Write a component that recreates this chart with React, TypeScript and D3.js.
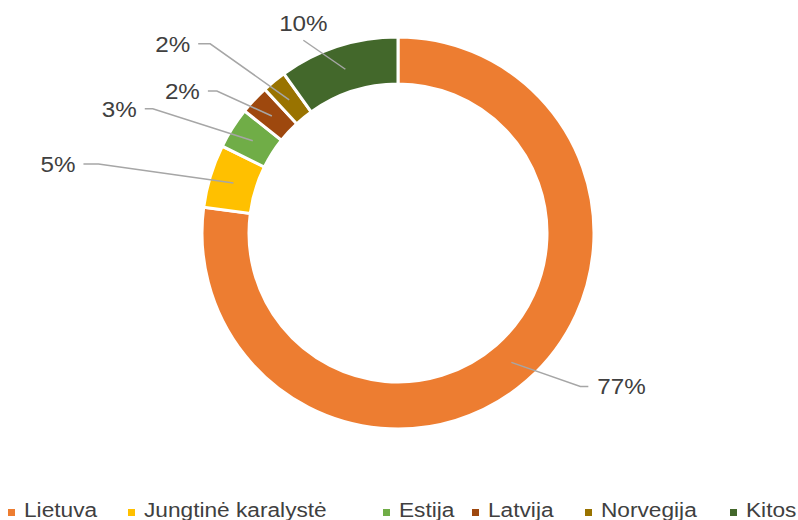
import React from "react";
import * as d3 from "d3";

const categories = ["Lietuva", "Jungtinė karalystė", "Estija", "Latvija", "Norvegija", "Kitos"];
const values = [77.1, 5.2, 3.4, 2.4, 2.0, 9.9];
const labels = ["77%", "5%", "3%", "2%", "2%", "10%"];
const colors = ["#ED7D31", "#FFC000", "#70AD47", "#9E480E", "#997300", "#43682B"];

// layout: leader elbow offset from centroid, horizontal tail, text side
const leaderLayout = [
  { ex: 69, ey: 24, tail: 8, side: "right" },
  { ex: -135, ey: -19, tail: -15, side: "left" },
  { ex: -100, ey: -32, tail: -8, side: "left" },
  { ex: -55, ey: -25, tail: -9, side: "left" },
  { ex: -79, ey: -56, tail: -12, side: "left" },
  { ex: -42, ey: -29, tail: 0, side: "top" },
];
const legendX = [8, 128, 383, 472, 585, 730];

const W = 798;
const H = 520;
const cx = 398;
const cy = 233;
const rOuter = 196;
const rInner = 149;
const font = "'Liberation Sans', Arial, sans-serif";
const sx = 1.1;

export default function App() {
  const pie = d3.pie<number>().sort(null).value((d) => d);
  const arcs = pie(values);
  const arc = d3.arc<d3.PieArcDatum<number>>().innerRadius(rInner).outerRadius(rOuter);
  const mid = d3.arc<d3.PieArcDatum<number>>().innerRadius(172).outerRadius(172);

  return (
    <svg width={W} height={H} style={{ position: "absolute", left: 0, top: 0, background: "#fff" }}>
      <g transform={`translate(${cx},${cy})`}>
        {arcs.map((a, i) => (
          <path key={i} d={arc(a) || ""} fill={colors[i]} stroke="#fff" strokeWidth={3} strokeLinejoin="miter" />
        ))}
        {arcs.map((a, i) => {
          const [mx, my] = mid.centroid(a);
          const L = leaderLayout[i];
          const ex = mx + L.ex;
          const ey = my + L.ey;
          const tx = ex + L.tail;
          const pts = L.tail !== 0 ? `${mx},${my} ${ex},${ey} ${tx},${ey}` : `${mx},${my} ${ex},${ey}`;
          let textX = tx;
          let textY = ey;
          let anchor: "start" | "end" | "middle" = "start";
          if (L.side === "right") {
            textX = tx + 9;
            anchor = "start";
          } else if (L.side === "left") {
            textX = tx - 8;
            anchor = "end";
          } else {
            textX = ex;
            textY = ey - 17;
            anchor = "middle";
          }
          return (
            <g key={"l" + i}>
              <polyline points={pts} fill="none" stroke="#A6A6A6" strokeWidth={1.5} />
              <g transform={`translate(${textX},${textY}) scale(${sx},1)`}>
                <text x={0} y={0} dy="0.36em" textAnchor={anchor} fontFamily={font} fontSize={22} fill="#404040">
                  {labels[i]}
                </text>
              </g>
            </g>
          );
        })}
      </g>
      <g>
        {categories.map((c, i) => (
          <g key={"lg" + i} transform={`translate(${legendX[i]},0)`}>
            <rect x={0} y={509} width={7} height={7} fill={colors[i]} />
            <g transform={`translate(16,517) scale(1.08,1)`}>
              <text x={0} y={0} fontFamily={font} fontSize={21} fill="#404040">
                {c}
              </text>
            </g>
          </g>
        ))}
      </g>
    </svg>
  );
}
